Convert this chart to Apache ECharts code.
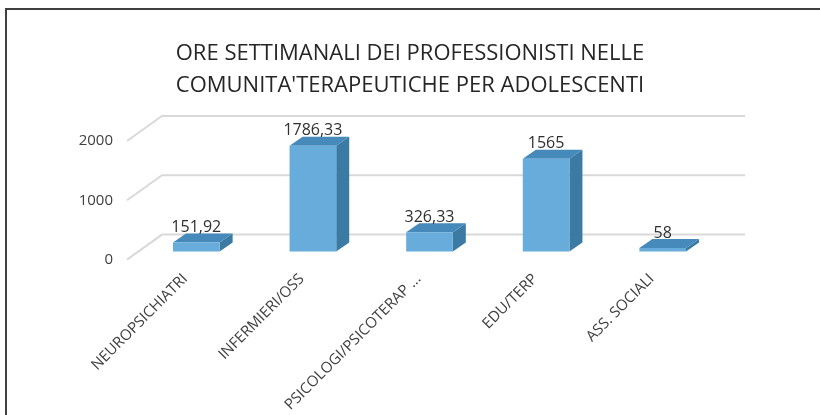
<!DOCTYPE html>
<html>
<head>
<meta charset="utf-8">
<script src="https://cdn.jsdelivr.net/npm/echarts@6/dist/echarts.min.js"></script>
<style>
  html, body { margin: 0; padding: 0; background: #fff; }
  #chart { width: 820px; height: 415px; }
</style>
</head>
<body>
<div id="chart"></div>
<script>
  const categories = ['NEUROPSICHIATRI', 'INFERMIERI/OSS', 'PSICOLOGI/PSICOTERAP ...', 'EDU/TERP', 'ASS. SOCIALI']
  const values = [151.92, 1786.33, 326.33, 1565, 58]
  const yTicks = [0, 1000, 2000]

  const FONT = 'Open Sans'
  const TEXT = '#404040'
  // finto 3D: spostamenti in pixel
  const WALL = [35, -25]   // pavimento fronte -> parete di fondo
  const BAR_OFF = [11, -8] // pavimento fronte -> faccia anteriore barra
  const BAR_DEPTH = [13, -9]

  const fmt = v => String(v).replace('.', ',')

  const chart = echarts.init(document.getElementById('chart'))

  const option = {
    animation: false,
    title: {
      text: 'ORE SETTIMANALI DEI PROFESSIONISTI NELLE\nCOMUNITA\'TERAPEUTICHE PER ADOLESCENTI',
      left: 'center',
      top: 33,
      textStyle: { fontFamily: FONT, fontSize: 22, fontWeight: 'normal', color: '#262626', lineHeight: 32 },
    },
    grid: { left: 127, width: 583, top: 141, height: 120 },
    xAxis: {
      type: 'category',
      data: categories,
      axisLine: { show: false },
      axisTick: { show: false },
      axisLabel: { rotate: 45, margin: 17, fontFamily: FONT, fontSize: 15, color: TEXT, interval: 0 },
    },
    yAxis: {
      type: 'value',
      min: 0,
      max: 2000,
      interval: 1000,
      splitLine: { show: false },
      axisLine: { show: false },
      axisLabel: { margin: 14, fontFamily: FONT, fontSize: 15, color: TEXT, formatter: v => String(v) },
    },
    series: [
      {
        // griglia in prospettiva
        type: 'custom',
        data: yTicks.map(v => [0, v]),
        silent: true,
        z: 1,
        renderItem(params, api) {
          const y = api.coord([0, api.value(1)])[1]
          const x0 = params.coordSys.x
          const w = params.coordSys.width
          return {
            type: 'polyline',
            shape: { points: [[x0, y], [x0 + WALL[0], y + WALL[1]], [x0 + WALL[0] + w, y + WALL[1]]] },
            style: { stroke: '#d9d9d9', lineWidth: 2, fill: null },
          }
        },
      },
      {
        type: 'custom',
        data: values.map((v, i) => [i, v]),
        z: 2,
        renderItem(params, api) {
          const base = api.coord([api.value(0), 0])
          const top = api.coord([api.value(0), api.value(1)])
          const band = api.size([1, 0])[0]
          const hw = band * 0.2
          const cx = base[0] + BAR_OFF[0]
          const x1 = cx - hw, x2 = cx + hw
          const yb = base[1] + BAR_OFF[1]
          const yt = top[1] + BAR_OFF[1]
          const dx = BAR_DEPTH[0], dy = BAR_DEPTH[1]
          return {
            type: 'group',
            children: [
              {
                type: 'polygon',
                shape: { points: [[x2, yb], [x2 + dx, yb + dy], [x2 + dx, yt + dy], [x2, yt]] },
                style: { fill: '#3b7aa3' },
              },
              {
                type: 'polygon',
                shape: { points: [[x1, yt], [x2, yt], [x2 + dx, yt + dy], [x1 + dx, yt + dy]] },
                style: { fill: '#4689bb' },
              },
              {
                type: 'rect',
                shape: { x: x1, y: yt, width: x2 - x1, height: yb - yt },
                style: { fill: '#67acdb' },
              },
              {
                type: 'text',
                style: {
                  x: cx, y: yt - 15, text: fmt(api.value(1)),
                  align: 'center', verticalAlign: 'middle',
                  font: '16px "' + FONT + '"', fill: '#303030',
                },
              },
            ],
          }
        },
      },
    ],
    graphic: [
      {
        type: 'polyline',
        shape: { points: [[6, 415], [6, 9], [820, 9]] },
        style: { stroke: '#404040', lineWidth: 2, fill: null },
        silent: true,
      },
    ],
  }

  chart.setOption(option)
</script>
</body>
</html>
